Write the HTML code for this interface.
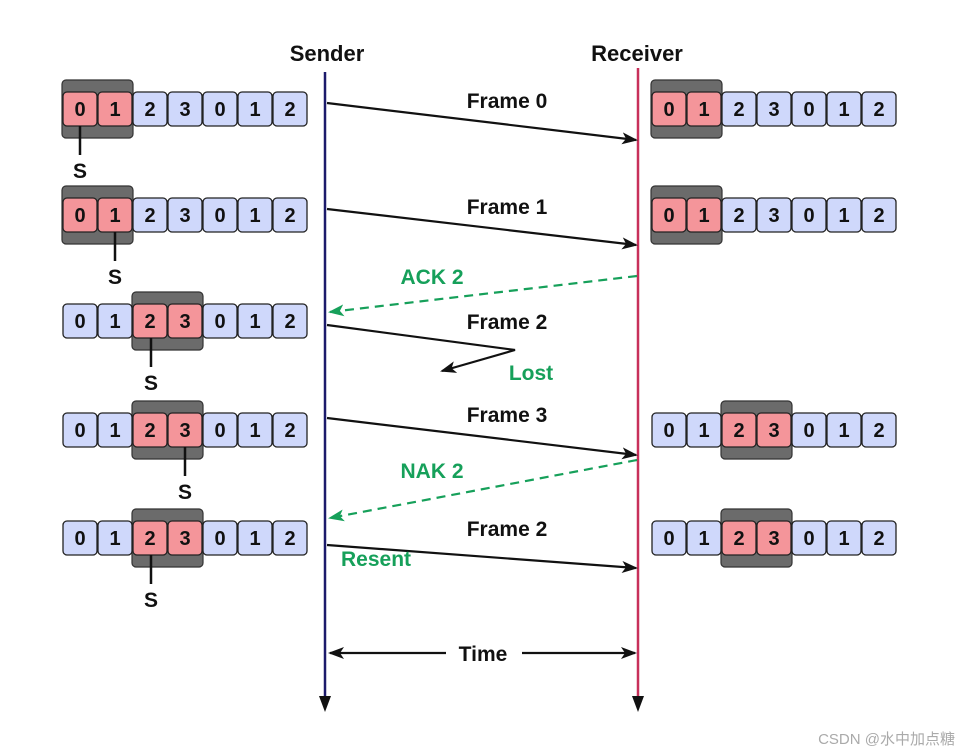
<!DOCTYPE html>
<html><head><meta charset="utf-8"><style>
html,body{margin:0;padding:0;background:#fff;}
svg{display:block;font-family:"Liberation Sans","DejaVu Sans",sans-serif;}
.c{fill:#cfd8fb;stroke:#222;stroke-width:1.3;}
.r{fill:#f4959a;stroke:#222;stroke-width:1.3;}
.t{font-size:20px;font-weight:bold;fill:#111;text-anchor:middle;}
.l{font-size:21px;font-weight:bold;fill:#111;text-anchor:middle;}
.g{font-size:21px;font-weight:bold;fill:#16a05a;text-anchor:middle;}
</style></head><body>
<svg width="960" height="754" viewBox="0 0 960 754" xmlns="http://www.w3.org/2000/svg">
<defs>
<marker id="a" markerWidth="16" markerHeight="12" refX="14" refY="6" orient="auto" markerUnits="userSpaceOnUse"><path d="M0,0 L16,6 L0,12 L4,6 Z" fill="#111"/></marker>
<marker id="ag" markerWidth="16" markerHeight="12" refX="14" refY="6" orient="auto" markerUnits="userSpaceOnUse"><path d="M0,0 L16,6 L0,12 L4,6 Z" fill="#16a05a"/></marker>
</defs>
<g id="all"></g>
<text x="327" y="61" class="l" style="font-size:22px">Sender</text>
<text x="637" y="61" class="l" style="font-size:22px">Receiver</text>
<line x1="325" y1="72" x2="325" y2="700" stroke="#1c1a6b" stroke-width="2.5"/>
<path d="M319,696 L325,712 L331,696 Z" fill="#111"/>
<line x1="638" y1="68" x2="638" y2="700" stroke="#c8305a" stroke-width="2.5"/>
<path d="M632,696 L638,712 L644,696 Z" fill="#111"/>

<g stroke="#111" stroke-width="2.2" fill="none">
<line x1="327" y1="103" x2="636" y2="140" marker-end="url(#a)"/>
<line x1="327" y1="209" x2="636" y2="245" marker-end="url(#a)"/>
<path d="M327,325 L515,350 L442,371" marker-end="url(#a)"/>
<line x1="327" y1="418" x2="636" y2="455" marker-end="url(#a)"/>
<line x1="327" y1="545" x2="636" y2="568" marker-end="url(#a)"/>
<line x1="330" y1="653" x2="446" y2="653" marker-end="url(#a)" transform="rotate(180 388 653)"/>
<line x1="522" y1="653" x2="635" y2="653" marker-end="url(#a)"/>
</g>
<g stroke="#16a05a" stroke-width="2.2" fill="none" stroke-dasharray="9,6">
<line x1="637" y1="276" x2="330" y2="312" marker-end="url(#ag)"/>
<line x1="637" y1="460" x2="330" y2="518" marker-end="url(#ag)"/>
</g>
<text x="507" y="108" class="l">Frame 0</text>
<text x="507" y="214" class="l">Frame 1</text>
<text x="432" y="284" class="g">ACK 2</text>
<text x="507" y="329" class="l">Frame 2</text>
<text x="531" y="380" class="g">Lost</text>
<text x="507" y="422" class="l">Frame 3</text>
<text x="432" y="478" class="g">NAK 2</text>
<text x="507" y="536" class="l">Frame 2</text>
<text x="376" y="566" class="g">Resent</text>
<text x="483" y="661" class="l">Time</text>
<text x="955" y="744" style="font-size:15px;fill:#aaa;text-anchor:end;font-family:'Liberation Sans','Noto Sans CJK SC',sans-serif">CSDN @水中加点糖</text>
</svg>
<script>
(function(){
var ns="http://www.w3.org/2000/svg",g=document.getElementById("all");
function el(n,a,txt){var e=document.createElementNS(ns,n);for(var k in a)e.setAttribute(k,a[k]);if(txt!==undefined)e.textContent=txt;g.appendChild(e);return e;}
var labels=["0","1","2","3","0","1","2"];
function row(x0,yc,w1){
 var top=yc-17,bx=x0-1+w1*35;
 el("rect",{x:bx,y:yc-29,width:71,height:58,rx:4,fill:"#6b6b6b",stroke:"#333","stroke-width":1.2});
 for(var i=0;i<7;i++){
  var x=x0+i*35;
  el("rect",{x:x,y:top,width:34,height:34,rx:4,"class":(i==w1||i==w1+1)?"r":"c"});
  el("text",{x:x+17,y:yc+7,"class":"t"},labels[i]);
 }
}
function s(x,yc){el("line",{x1:x,y1:yc+17,x2:x,y2:yc+46,stroke:"#111","stroke-width":2.5});el("text",{x:x,y:yc+69,"class":"l"},"S");}
row(63,109,0);s(80,109);
row(63,215,0);s(115,215);
row(63,321,2);s(151,321);
row(63,430,2);s(185,430);
row(63,538,2);s(151,538);
row(652,109,0);row(652,215,0);row(652,430,2);row(652,538,2);
})();
</script>
</body></html>
